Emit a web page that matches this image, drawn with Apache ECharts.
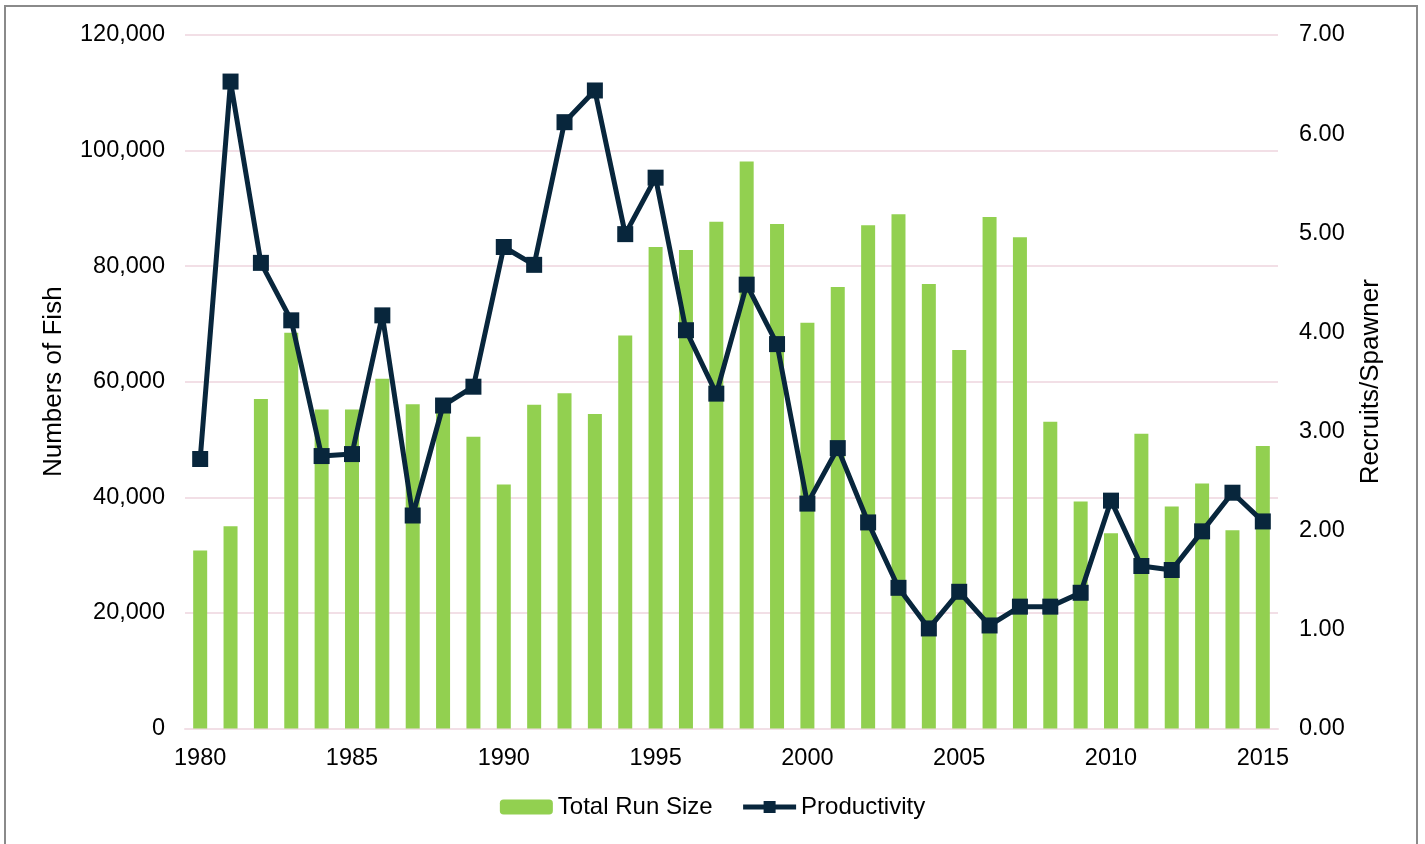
<!DOCTYPE html>
<html>
<head>
<meta charset="utf-8">
<script src="https://cdn.jsdelivr.net/npm/echarts@6/dist/echarts.min.js"></script>
<style>
html, body { margin: 0; padding: 0; background: #fff; }
#chart { width: 1425px; height: 844px; }
</style>
</head>
<body>
<div id="chart"></div>
<script>
const years = [];
for (let y = 1980; y <= 2015; y += 1) {
  years.push(String(y));
}
const runSize = [
  30800, 35000, 57000, 68500, 55200, 55200, 60500, 56100, 56000, 50500,
  42200, 56000, 58000, 54400, 68000, 83300, 82800, 87700, 98100, 87300,
  70200, 76400, 87100, 89000, 76900, 65500, 88500, 85000, 53100, 39300,
  33800, 51000, 38400, 42400, 34300, 48900,
];
const productivity = [
  2.72, 6.53, 4.70, 4.12, 2.75, 2.77, 4.17, 2.15, 3.26, 3.45,
  4.86, 4.68, 6.12, 6.44, 4.99, 5.56, 4.02, 3.38, 4.48, 3.88,
  2.27, 2.83, 2.08, 1.42, 1.01, 1.38, 1.04, 1.23, 1.23, 1.37,
  2.30, 1.64, 1.60, 1.99, 2.38, 2.09,
];

const font = 'Liberation Sans, Arial, sans-serif';
const gridColor = '#f2dfe6';
const navy = '#08263c';

const chart = echarts.init(document.getElementById('chart'));
chart.setOption({
  animation: false,
  textStyle: { fontFamily: font, color: '#000' },
  graphic: [{
    type: 'rect',
    shape: { x: 5, y: 6, width: 1412, height: 900 },
    style: { fill: 'none', stroke: '#8a8a8a', lineWidth: 2 },
    silent: true,
  }],
  grid: {
    left: 185,
    right: 147,
    top: 35,
    bottom: 115.5,
  },
  legend: {
    bottom: 20,
    left: 'center',
    itemWidth: 53,
    itemHeight: 15,
    itemGap: 28,
    textStyle: { fontFamily: font, fontSize: 24, color: '#000' },
    data: [
      { name: 'Total Run Size' },
      {
        name: 'Productivity',
        lineStyle: { width: 5, color: navy },
        itemStyle: { color: navy },
      },
    ],
  },
  xAxis: {
    type: 'category',
    data: years,
    axisTick: { show: false },
    axisLine: { lineStyle: { color: gridColor, width: 2 } },
    axisLabel: {
      interval: 4,
      margin: 18,
      fontSize: 23.5,
      color: '#000',
      fontFamily: font,
    },
  },
  yAxis: [{
    type: 'value',
    min: 0,
    max: 120000,
    interval: 20000,
    name: 'Numbers of Fish',
    nameLocation: 'middle',
    nameRotate: 90,
    nameGap: 118,
    nameTextStyle: { fontSize: 26, color: '#000', fontFamily: font },
    axisLabel: {
      margin: 20,
      fontSize: 23.5,
      color: '#000',
      fontFamily: font,
      formatter: (v) => v.toLocaleString('en-US'),
    },
    splitLine: { lineStyle: { color: gridColor, width: 2 } },
  }, {
    type: 'value',
    min: 0,
    max: 7,
    interval: 1,
    position: 'right',
    name: 'Recruits/Spawner',
    nameLocation: 'middle',
    nameRotate: 90,
    nameGap: 80,
    nameTextStyle: { fontSize: 26, color: '#000', fontFamily: font },
    axisLabel: {
      margin: 21,
      fontSize: 23.5,
      color: '#000',
      fontFamily: font,
      formatter: (v) => v.toFixed(2),
    },
    splitLine: { show: false },
  }],
  series: [{
    name: 'Total Run Size',
    type: 'bar',
    data: runSize,
    barWidth: 14,
    itemStyle: { color: '#92d050' },
  }, {
    name: 'Productivity',
    type: 'line',
    yAxisIndex: 1,
    data: productivity,
    symbol: 'rect',
    symbolSize: 16,
    lineStyle: { color: navy, width: 5 },
    itemStyle: { color: navy },
  }],
});
</script>
</body>
</html>
